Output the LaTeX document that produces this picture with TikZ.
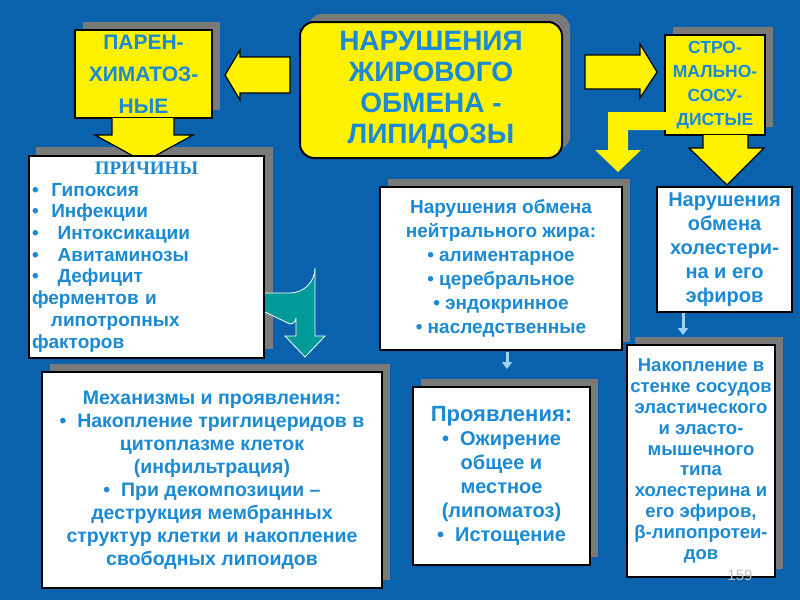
\documentclass[tikz,border=0pt]{standalone}
\usepackage{fontspec}
\setmainfont{Liberation Sans}
\newfontfamily\serifb{Liberation Serif}
\usetikzlibrary{shapes.arrows,arrows.meta}
\definecolor{bg}{HTML}{0A62AC}
\definecolor{tx}{HTML}{1A8AD4}
\definecolor{sh}{HTML}{7A7A7A}
\definecolor{teal1}{HTML}{009A98}
\definecolor{lb}{HTML}{9CD2F6}
\tikzset{
 box/.style={draw=black,line width=2pt,fill=white,text=tx,align=center,inner sep=2pt},
 ybox/.style={box,fill=yellow},
 shad/.style={fill=sh},
 yarr/.style={fill=yellow,draw=black,line width=1.2pt},
}
\begin{document}
\begin{tikzpicture}[x=1pt,y=-1pt]
\fill[bg] (0,0) rectangle (800,600);
\useasboundingbox (0,0) rectangle (800,600);
% shadows
\fill[shad,rounded corners=14pt] (308,14) rectangle (570,150);
\fill[shad] (83,22) rectangle (220,110);
\fill[shad] (673,27) rectangle (773,127);
\fill[shad] (36,147) rectangle (273,349);
\fill[shad] (50,364) rectangle (390,580);
\fill[shad] (421,379) rectangle (598,557);
\fill[shad] (635,337) rectangle (783,569);
\fill[shad] (388,179) rectangle (630,342);
% arrows
\draw[yarr] (290,57) -- (240,57) -- (240,50) -- (225,75) -- (240,100) -- (240,93) -- (290,93) -- cycle;
\draw[yarr] (585,55) -- (640,55) -- (640,44) -- (657,72) -- (640,98) -- (640,89) -- (585,89) -- cycle;
% center
\node[ybox,rounded corners=14pt,minimum width=262pt,minimum height=136pt,font=\bfseries\fontsize{28}{31}\selectfont] (c) at (431,90) {НАРУШЕНИЯ\\ЖИРОВОГО\\ОБМЕНА -\\ЛИПИДОЗЫ};
\node[ybox,minimum width=137pt,minimum height=88pt,font=\bfseries\fontsize{21}{32}\selectfont] (p) at (143.5,74) {ПАРЕН-\\ХИМАТОЗ-\\НЫЕ};
\node[ybox,minimum width=100pt,minimum height=100pt,font=\bfseries\fontsize{17.5}{24}\selectfont] (s) at (715,85) {СТРО-\\МАЛЬНО-\\СОСУ-\\ДИСТЫЕ};
% down arrows
\draw[yarr] (112,118) -- (112,135) -- (95,135) -- (144,162) -- (193,135) -- (174,135) -- (174,118);
\draw[yarr] (703,135) -- (703,148) -- (689,148) -- (727,185) -- (764,148) -- (748,148) -- (748,135);
\fill[yellow] (670,112) -- (608,112) -- (608,150) -- (595,150) -- (618,172) -- (641,150) -- (628,150) -- (628,130) -- (670,130) -- cycle;
% causes box
\node[box,anchor=north west,text width=229pt,minimum height=202pt,align=left,inner sep=3pt,font=\bfseries\fontsize{19}{21.7}\selectfont] (pr) at (28,155) {\makebox[229pt][c]{\serifb ПРИЧИНЫ}\\
• \ Гипоксия\\
• \ Инфекции\\
• \ \ Интоксикации\\
• \ \ Авитаминозы\\
• \ \ Дефицит\\
ферментов и\\
\ \ \ липотропных\\
факторов};
% teal bent arrow
\draw[fill=teal1,draw=white,line width=0.8pt] (265,293) -- (290,293) arc[start angle=90,end angle=0,radius=25] -- (315,336) -- (325,336) -- (305,357) -- (285,336) -- (296,336) -- (296,318) arc[start angle=0,end angle=90,radius=6] -- (265,312);
\node[box,minimum width=242pt,minimum height=163pt,font=\bfseries\fontsize{19}{24}\selectfont] (n) at (501,268.5) {Нарушения обмена\\нейтрального жира:\\• алиментарное\\• церебральное\\• эндокринное\\• наследственные};
\node[box,minimum width=135pt,minimum height=125pt,font=\bfseries\fontsize{20}{24}\selectfont] (h) at (724.5,249.5) {Нарушения\\обмена\\холестери-\\на и его\\эфиров};
\node[box,minimum width=340pt,minimum height=216pt,font=\bfseries\fontsize{19.5}{23}\selectfont] (m) at (212,480) {Механизмы и проявления:\\• \ Накопление триглицеридов в\\цитоплазме клеток\\(инфильтрация)\\• \ При декомпозиции –\\деструкция мембранных\\структур клетки и накопление\\свободных липоидов};
\node[box,minimum width=177pt,minimum height=178pt,font=\bfseries\fontsize{20}{24}\selectfont] (v) at (501.5,476) {{\fontsize{22}{26}\selectfont Проявления:}\\• \ Ожирение\\общее и\\местное\\(липоматоз)\\• \ Истощение};
\node[box,minimum width=148pt,minimum height=232pt,font=\bfseries\fontsize{18.5}{20.8}\selectfont] (k) at (701,461) {Накопление в\\стенке сосудов\\эластического\\и эласто-\\мышечного\\типа\\холестерина и\\его эфиров,\\β-липопротеи-\\дов};
\coordinate (a1) at (507,352);
\coordinate (a2) at (683,313);
\draw[lb,line width=3pt,-{Triangle[width=10pt,length=7pt]}] (a1) -- (507,369);
\draw[lb,line width=3pt,-{Triangle[width=10pt,length=7pt]}] (a2) -- (683,335);
\node[text=gray!50,font=\fontsize{15}{17}\selectfont] (num) at (740,575) {159};
\end{tikzpicture}
\end{document}
